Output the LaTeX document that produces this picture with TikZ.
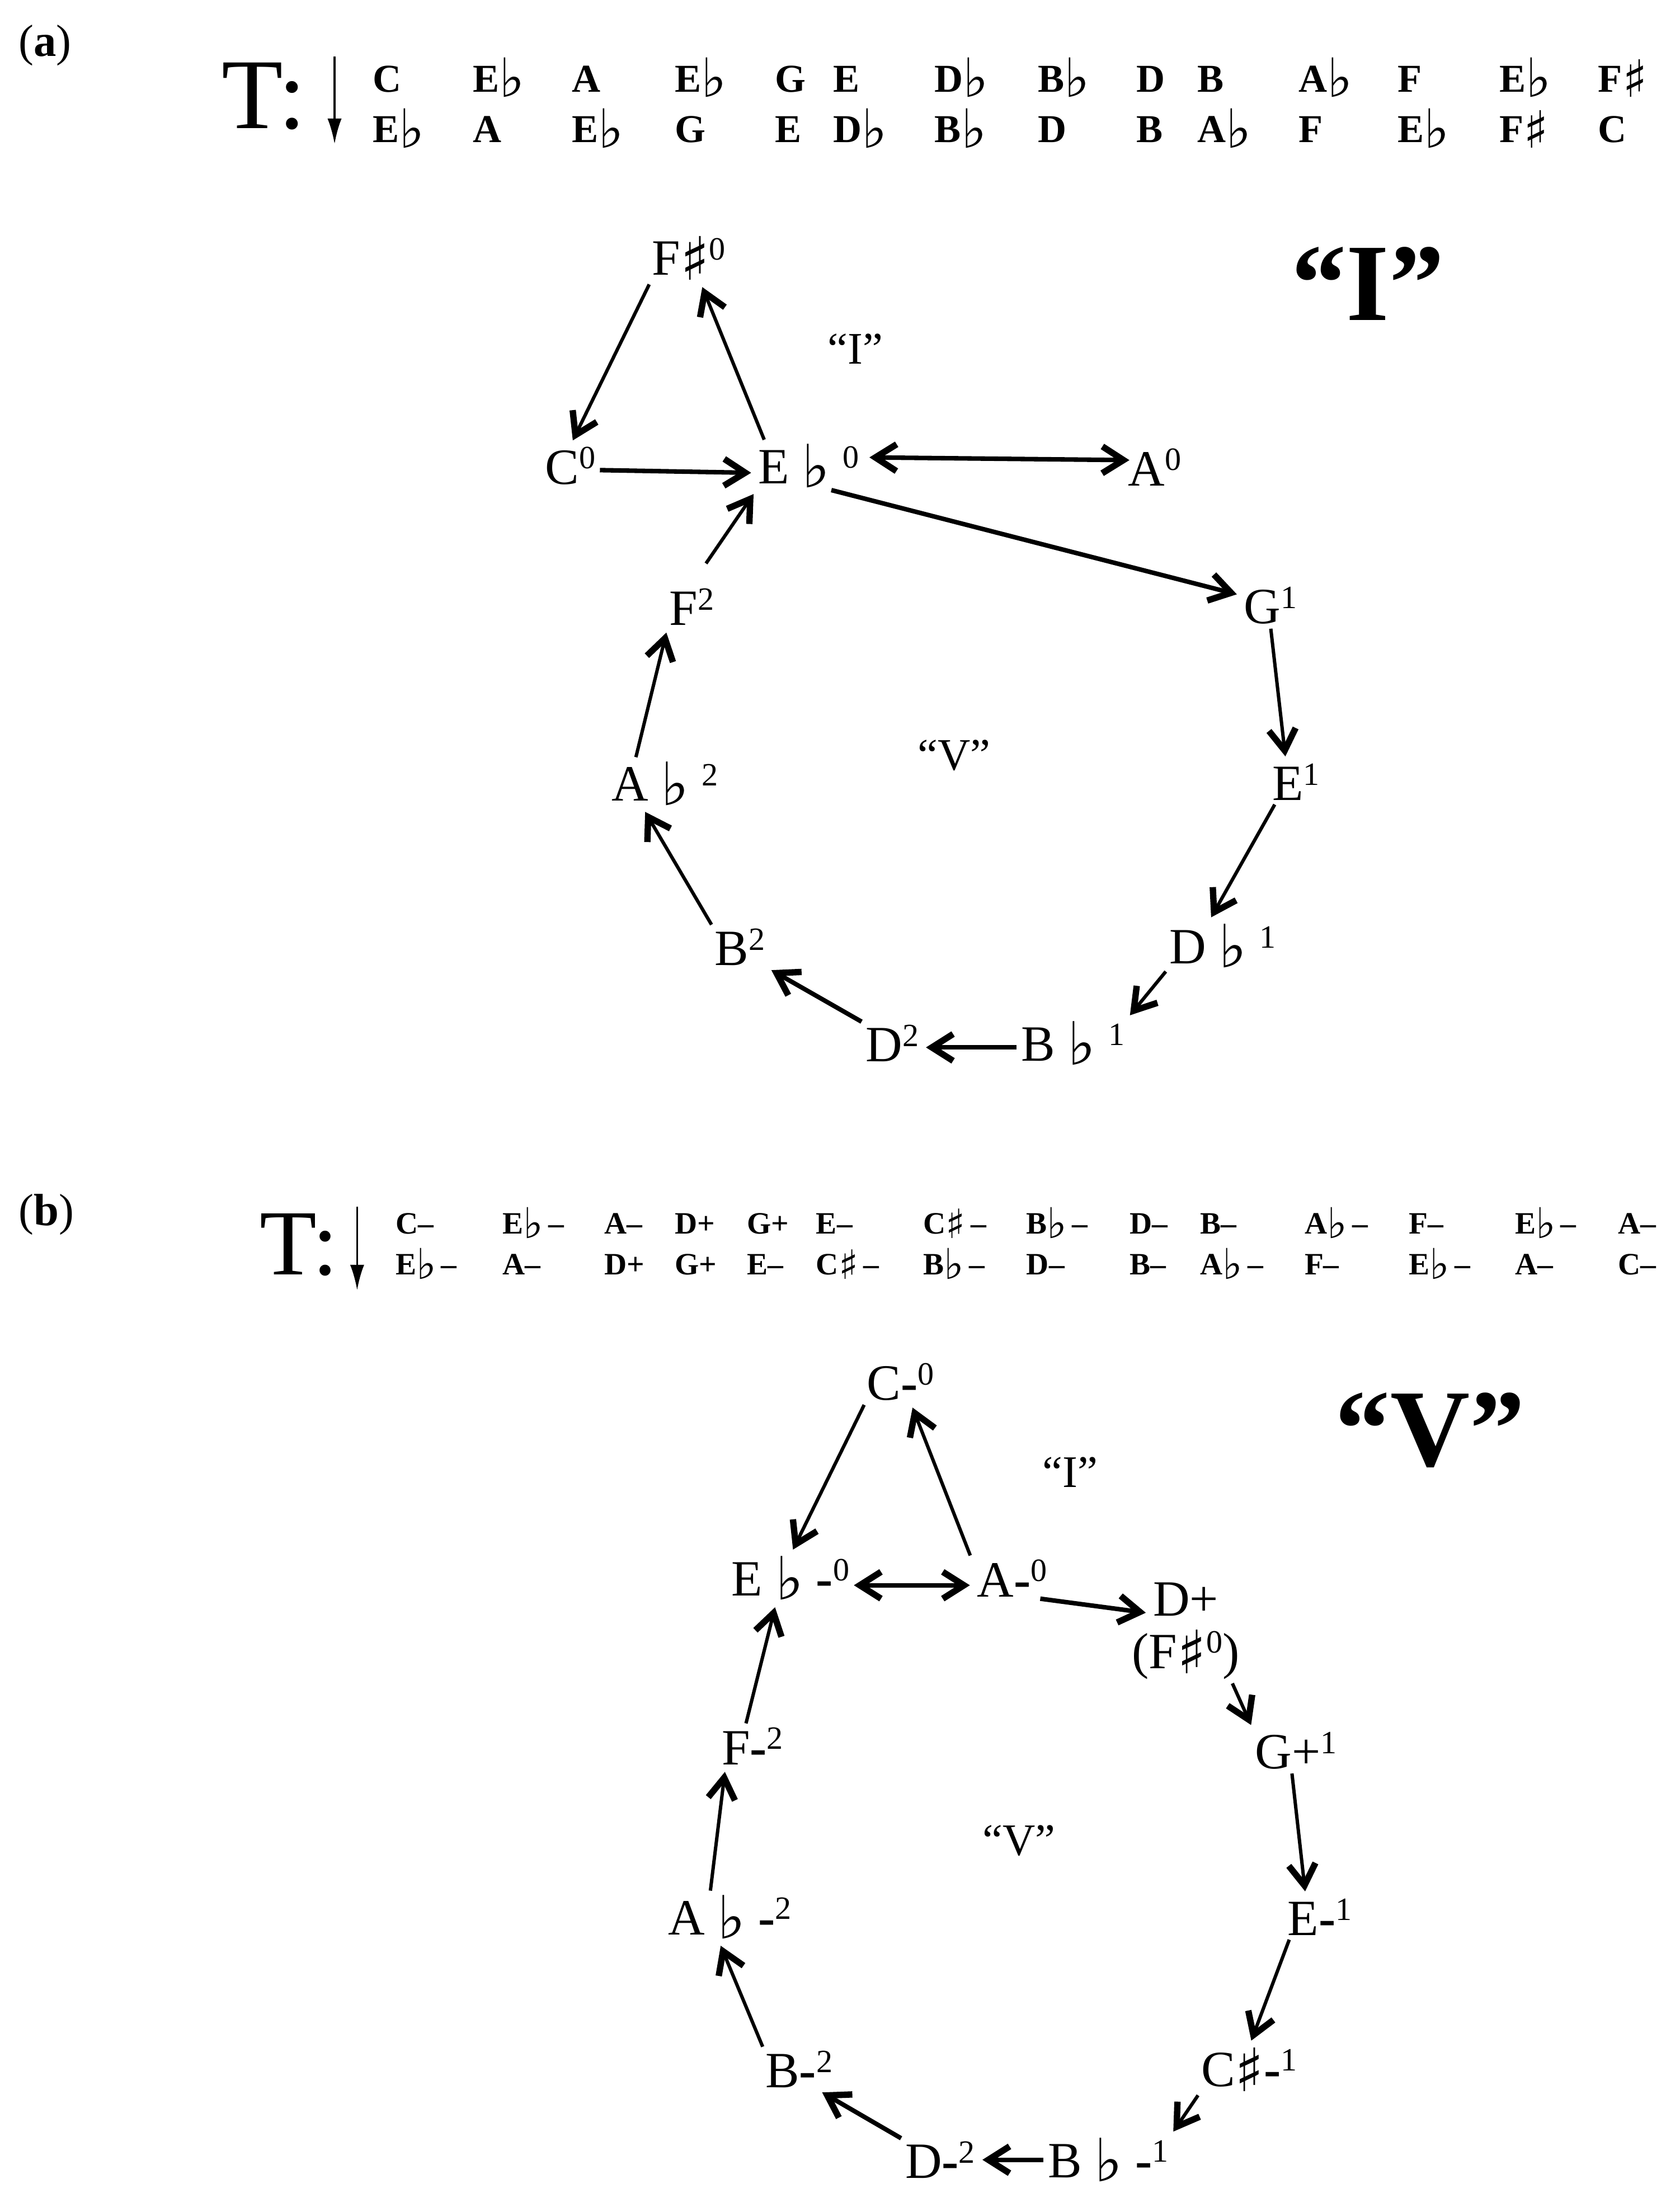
\documentclass[tikz,border=0pt]{standalone}
\usepackage{fontspec}
\usepackage{graphicx}
\setmainfont{Liberation Serif}
\newfontfamily\musicfont{DejaVu Sans}
\usetikzlibrary{arrows.meta}

\newcommand{\flt}{\raisebox{-0.08em}{\resizebox*{!}{0.86em}{\musicfont ♭}}}
\newcommand{\shp}{\raisebox{-0.1em}{\resizebox*{!}{0.86em}{\musicfont ♯}}}
\newcommand{\hflt}{\raisebox{-0.14em}{\resizebox*{!}{1em}{\musicfont ♭}}}
\newcommand{\hshp}{\raisebox{-0.14em}{\resizebox*{!}{0.95em}{\musicfont\bfseries ♯}}}
\newcommand{\supx}[1]{\raisebox{0.3em}{\fontsize{23}{23}\selectfont #1}}
\newcommand{\bmin}{{\bfseries -}}

\tikzset{
	tone/.style = {inner sep = 1pt, font = \fontsize{36}{40}\selectfont},
	hdra/.style = {anchor = base west, inner sep = 0pt, font = \bfseries\fontsize{28}{30}\selectfont},
	hdrb/.style = {anchor = base west, inner sep = 0pt, font = \bfseries\fontsize{22}{24}\selectfont},
	panel/.style = {anchor = base west, inner sep = 0pt, font = \fontsize{32}{34}\selectfont},
	region/.style = {inner sep = 0pt, font = \fontsize{32}{34}\selectfont},
	chord/.style = {inner sep = 0pt, font = \bfseries\fontsize{78}{80}\selectfont},
	link/.style = {->, line width = 2.4pt, shorten > = 4pt, shorten < = 2pt},
	boldlink/.style = {link, line width = 3.2pt},
	trans/.style = {line width = 1.5pt, -{Latex[length = 18pt, width = 10pt]}}
}

\begin{document}
\begin{tikzpicture}[x = 1pt, y = -1pt, > = {Straight Barb[length = 15pt, width = 19pt, line width = 4.5pt]}]

	\useasboundingbox (0, 0) rectangle (1190, 1567);

	% (a) transposition rows
	\node [panel] (pa) at (13, 40) {(\textbf{a})};
	\node [anchor = base west, inner sep = 0pt, font = \fontsize{71}{72}\selectfont] (ta) at (157, 91) {T:};
	\coordinate (ta-top) at (237, 40);
	\coordinate (ta-tip) at (237, 102);
	\draw [trans] (ta-top) -- (ta-tip);

	\foreach \x/\n [count = \i] in {264/C, 335/E\hflt, 405/A, 478/E\hflt, 549/G, 590/E, 662/D\hflt, 735/B\hflt, 805/D, 848/B, 920/A\hflt, 990/F, 1062/E\hflt, 1132/F\hshp}
		\node [hdra] (ra1-\i) at (\x, 65) {\n};
	\foreach \x/\n [count = \i] in {264/E\hflt, 335/A, 405/E\hflt, 478/G, 549/E, 590/D\hflt, 662/B\hflt, 735/D, 805/B, 848/A\hflt, 920/F, 990/E\hflt, 1062/F\hshp, 1132/C}
		\node [hdra] (ra2-\i) at (\x, 101) {\n};

	% (a) graph
	\node [tone] (Fs0) at (488, 183) {F\shp\supx{0}};
	\node [tone] (C0) at (404, 330) {C\supx{0}};
	\node [tone] (Eb0) at (573, 330) {E \flt\ \supx{0}};
	\node [tone] (A0) at (818, 331) {A\supx{0}};
	\node [tone] (G1) at (900, 429) {G\supx{1}};
	\node [tone] (E1) at (918, 554) {E\supx{1}};
	\node [tone] (Db1) at (866, 670) {D \flt\ \supx{1}};
	\node [tone] (Bb1) at (760, 739) {B \flt\ \supx{1}};
	\node [tone] (D2) at (632, 739) {D\supx{2}};
	\node [tone] (B2) at (524, 671) {B\supx{2}};
	\node [tone] (Ab2) at (471, 555) {A \flt\ \supx{2}};
	\node [tone] (F2) at (490, 430) {F\supx{2}};

	\node [region] (regIa) at (606, 247) {“I”};
	\node [region] (regVa) at (676, 535) {“V”};
	\node [chord] (chIa) at (969, 201) {“I”};

	\draw [link] (Fs0.south west) -- (C0.north);
	\draw [link] ([xshift = 6pt]Eb0.north west) -- ([xshift = 8pt]Fs0.south);
	\draw [boldlink] ([yshift = -3pt]C0.east) -- ([yshift = -5pt]Eb0.west);
	\draw [boldlink, <->] ([xshift = 4pt, yshift = 6pt]Eb0.east) -- ([xshift = 6pt, yshift = 5pt]A0.west);
	\draw [boldlink] ([xshift = 14pt]Eb0.south) -- ([yshift = 7pt]G1.west);
	\draw [link] (G1.south) -- ([xshift = -7pt]E1.north);
	\draw [link] ([xshift = -14pt]E1.south) -- ([xshift = -10pt]Db1.north);
	\draw [link] (Db1.south west) -- (Bb1.north east);
	\draw [boldlink] ([yshift = -3pt]Bb1.west) -- ([yshift = -3pt]D2.east);
	\draw [boldlink] (D2.north west) -- (B2.south east);
	\draw [link] (B2.north west) -- ([xshift = -16pt]Ab2.south);
	\draw [link] ([xshift = -21pt]Ab2.north) -- ([xshift = -17pt]F2.south);
	\draw [link] ([xshift = 9pt, yshift = 15pt]F2.north) -- (Eb0.south west);

	% (b) transposition rows
	\node [panel] (pb) at (13, 868) {(\textbf{b})};
	\node [anchor = base west, inner sep = 0pt, font = \fontsize{66}{68}\selectfont] (tb) at (184, 903) {T:};
	\coordinate (tb-top) at (253, 855);
	\coordinate (tb-tip) at (253, 914);
	\draw [trans] (tb-top) -- (tb-tip);

	\foreach \x/\n [count = \i] in {280/C–, 356/E\hflt\,–, 428/A–, 478/D+, 529/G+, 578/E–, 654/C\hshp\,–, 727/B\hflt\,–, 800/D–, 850/B–, 924/A\hflt\,–, 998/F–, 1073/E\hflt\,–, 1146/A–}
		\node [hdrb] (rb1-\i) at (\x, 874) {\n};
	\foreach \x/\n [count = \i] in {280/E\hflt\,–, 356/A–, 428/D+, 478/G+, 529/E–, 578/C\hshp\,–, 654/B\hflt\,–, 727/D–, 800/B–, 850/A\hflt\,–, 924/F–, 998/E\hflt\,–, 1073/A–, 1146/C–}
		\node [hdrb] (rb2-\i) at (\x, 903) {\n};

	% (b) graph
	\node [tone] (Cm0) at (638, 979) {C\bmin\supx{0}};
	\node [tone] (Ebm0) at (560, 1118) {E \flt\ \bmin\supx{0}};
	\node [tone] (Am0) at (717, 1118) {A\bmin\supx{0}};
	\node [tone] (Dp) at (840, 1133) {D+};
	\node [tone] (Fsp) at (840, 1172) {(F\shp\supx{0})};
	\node [tone] (Gp1) at (918, 1240) {G+\supx{1}};
	\node [tone] (Em1) at (935, 1358) {E\bmin\supx{1}};
	\node [tone] (Csm1) at (885, 1466) {C\shp\bmin\supx{1}};
	\node [tone] (Bbm1) at (785, 1530) {B \flt\ \bmin\supx{1}};
	\node [tone] (Dm2) at (666, 1530) {D\bmin\supx{2}};
	\node [tone] (Bm2) at (566, 1466) {B\bmin\supx{2}};
	\node [tone] (Abm2) at (517, 1358) {A \flt\ \bmin\supx{2}};
	\node [tone] (Fm2) at (533, 1237) {F\bmin\supx{2}};

	\node [region] (regIb) at (758, 1043) {“I”};
	\node [region] (regVb) at (722, 1304) {“V”};
	\node [chord] (chVb) at (1013, 1013) {“V”};

	\draw [link] (Cm0.south west) -- (Ebm0.north);
	\draw [link] ([xshift = -3pt]Am0.north west) -- ([xshift = 7pt]Cm0.south);
	\draw [boldlink, <->] ([yshift = -5pt]Ebm0.east) -- ([yshift = -5pt]Am0.west);
	\draw [boldlink] ([xshift = -8pt]Am0.south east) -- ([yshift = -10pt]Dp.west);
	\draw [link] ([xshift = -7pt]Fsp.south east) -- (Gp1.north west);
	\draw [link] ([xshift = -3pt]Gp1.south) -- ([xshift = -10pt]Em1.north);
	\draw [link] ([xshift = -21pt]Em1.south) -- (Csm1.north);
	\draw [link] (Csm1.south west) -- (Bbm1.north east);
	\draw [boldlink] (Bbm1.west) -- (Dm2.east);
	\draw [boldlink] (Dm2.north west) -- ([xshift = -12pt]Bm2.south east);
	\draw [link] (Bm2.north west) -- ([xshift = -8pt]Abm2.south);
	\draw [link] ([xshift = -14pt]Abm2.north) -- ([xshift = -19pt]Fm2.south);
	\draw [link] ([xshift = -5pt]Fm2.north) -- ([xshift = -10pt]Ebm0.south);

\end{tikzpicture}
\end{document}
